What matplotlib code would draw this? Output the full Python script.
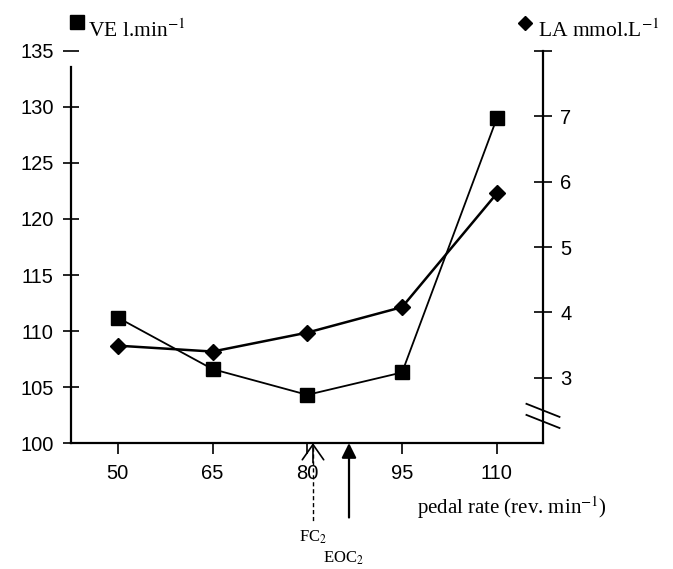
import matplotlib
matplotlib.use('Agg')
import matplotlib.pyplot as plt
import matplotlib.transforms as mtransforms

# pedal rates (rev/min) and measured values
pedal_rate = [50, 65, 80, 95, 110]
ve_values = [111.2, 106.6, 104.3, 106.3, 129.0]   # VE l.min-1 (left axis)
la_values = [3.49, 3.40, 3.69, 4.08, 5.82]        # LA mmol.L-1 (right axis)

ve_ticks = [100, 105, 110, 115, 120, 125, 130, 135]
la_ticks = [3, 4, 5, 6, 7, 8]
la_ticklabels = ['3', '4', '5', '6', '7', '']

fc2_rate = 80.9
eoc2_rate = 86.6

plt.rcParams['mathtext.fontset'] = 'stix'
sans = 'Liberation Sans'
serif = ['Liberation Serif', 'DejaVu Serif']

fig = plt.figure(figsize=(6.73, 5.69), dpi=100)
ax = fig.add_axes([0.1055, 0.2214, 0.7013, 0.689])
ax2 = ax.twinx()

ax.plot(pedal_rate, ve_values, color='black', lw=1.3, marker='s', markersize=10, clip_on=False, zorder=3)
ax2.plot(pedal_rate, la_values, color='black', lw=1.8, marker='D', markersize=8, clip_on=False, zorder=3)

ax.set_xlim(42.6, 117.3)
ax.set_ylim(100, 135)
ax2.set_ylim(2, 8)

ax.set_xticks(pedal_rate)
ax.set_xticklabels([str(v) for v in pedal_rate], family=sans, fontsize=14.5)
ax.set_yticks(ve_ticks)
ax.set_yticklabels([str(v) for v in ve_ticks], family=sans, fontsize=14.5)
ax2.set_yticks(la_ticks)
ax2.set_yticklabels(la_ticklabels, family=sans, fontsize=14.5)

ax.tick_params(axis='x', direction='out', length=8, width=1.2, pad=7)
ax.tick_params(axis='y', direction='inout', length=11, width=1.2, pad=7)
ax2.tick_params(axis='y', direction='inout', length=13, width=1.2, pad=6)

for a in (ax, ax2):
    a.spines['top'].set_visible(False)
    for s in a.spines.values():
        s.set_linewidth(1.6)
ax2.spines['left'].set_visible(False)
ax2.spines['bottom'].set_visible(False)
ax.spines['right'].set_visible(False)
ax.spines['left'].set_bounds(100, 133.6)

# axis break marks on the right axis
for yb in (2.33, 2.5):
    ax2.plot([0.965, 1.035], [yb + 0.1, yb - 0.1], color='black', lw=1.3,
             transform=mtransforms.blended_transform_factory(ax2.transAxes, ax2.transData),
             clip_on=False)

# series labels
fig.lines.append(plt.Line2D([0.1144], [0.9613], marker='s', markersize=10, color='black',
                            transform=fig.transFigure))
fig.text(0.131, 0.946, 'VE l.min$^{-1}$', family=serif, fontsize=15.5, va='center')
fig.lines.append(plt.Line2D([0.780], [0.960], marker='D', markersize=7, color='black',
                            transform=fig.transFigure))
fig.text(0.799, 0.946, 'LA mmol.L$^{-1}$', family=serif, fontsize=15.5, va='center')

fig.text(0.62, 0.107, 'pedal rate (rev. min$^{-1}$)', family=serif, fontsize=15, va='center')

# FC2 / EOC2 markers
trans = ax.get_xaxis_transform()
ax.plot([fc2_rate, fc2_rate], [-0.01, -0.204], transform=trans, color='black', lw=1.0,
        ls=(0, (3, 2)), clip_on=False)
ax.annotate('', xy=(fc2_rate, 0), xycoords=trans, xytext=(fc2_rate, -0.05), textcoords=trans,
            arrowprops=dict(arrowstyle='->, head_length=0.5, head_width=0.35', lw=1.2,
                            color='black', mutation_scale=22, shrinkA=0, shrinkB=0),
            annotation_clip=False)
ax.text(fc2_rate, -0.24, 'FC$_2$', transform=trans, family=serif, fontsize=12,
        ha='center', va='center')
ax.annotate('', xy=(eoc2_rate, 0), xycoords=trans, xytext=(eoc2_rate, -0.19), textcoords=trans,
            arrowprops=dict(arrowstyle='-|>', lw=1.6, color='black', mutation_scale=22,
                            shrinkA=0, shrinkB=0),
            annotation_clip=False)
ax.text(eoc2_rate - 0.8, -0.293, 'EOC$_2$', transform=trans, family=serif, fontsize=12,
        ha='center', va='center')

fig.savefig('out.png', dpi=100)
